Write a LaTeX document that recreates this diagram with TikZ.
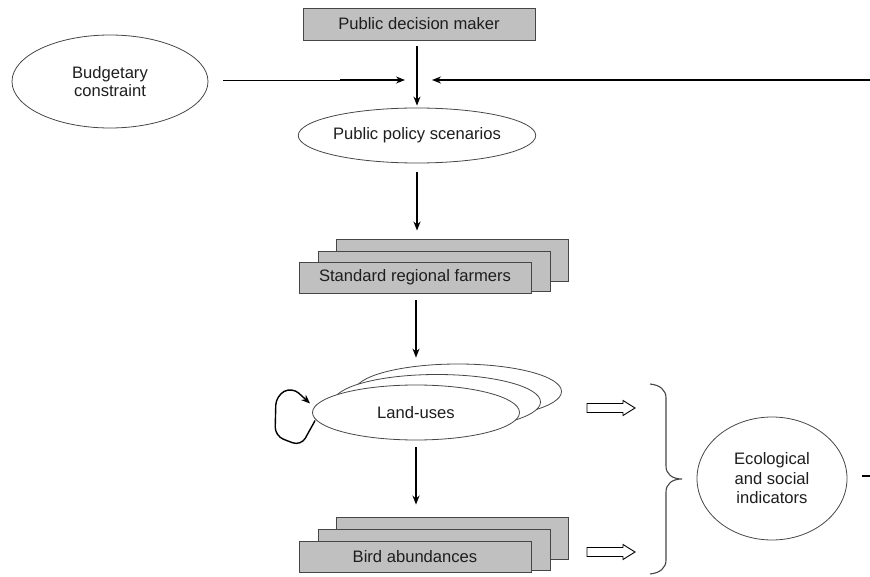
\documentclass[tikz,border=0pt]{standalone}
\usepackage{fontspec}
\setmainfont{Liberation Sans}
\usetikzlibrary{shapes.geometric,arrows.meta}
\definecolor{boxgray}{RGB}{192,192,192}
\definecolor{edge}{RGB}{70,70,70}
\definecolor{txt}{RGB}{30,30,30}
\begin{document}
\begin{tikzpicture}[x=1pt,y=-1pt,
  every node/.style={font=\fontsize{16.6}{18}\selectfont, text=txt},
  gbox/.style={draw=edge, line width=0.9pt, fill=boxgray, inner sep=0pt, minimum width=232pt},
  oval/.style={ellipse, draw=edge, line width=0.8pt, fill=white, inner sep=0pt, align=center},
  arr/.style={line width=1.4pt, -{Stealth[length=9pt,width=7pt]}},
  hollow/.style={draw=black, line width=0.9pt, fill=white, line join=miter},
]
\useasboundingbox (0,0) rectangle (870,577);

% top
\node[gbox, minimum height=32pt] (pdm) at (419,24) {Public decision maker};
\node[oval, minimum width=196pt, minimum height=93pt] (budget) at (110,81.5) {Budgetary\\constraint};
\node[oval, minimum width=208pt, minimum height=55pt] (pps) at (417,135.5) {Public policy scenarios};

\coordinate (lstart) at (223,80);
\coordinate (lmid) at (340,80);
\coordinate (ltip) at (405,80);
\coordinate (rstart) at (870,80);
\coordinate (rtip) at (432,80);
\draw[line width=0.9pt] (lstart) -- (lmid);
\draw[arr] (lmid) -- (ltip);
\draw[arr] (rstart) -- (rtip);
\draw[arr, shorten <=6pt, shorten >=2pt] (pps.north |- pdm.south) -- (pps.north);

% farmers
\node[gbox, minimum height=42pt] (farm3) at (452.5,260) {};
\node[gbox, minimum height=40pt] (farm2) at (434,271) {};
\node[gbox, minimum height=31pt] (farm1) at (415,277.5) {Standard regional farmers};
\draw[arr, shorten <=9pt, shorten >=8pt] (pps.south) -- (pps.south |- farm3.north);

% land uses
\node[oval, minimum width=207pt, minimum height=55pt] (land3) at (458,391.5) {};
\node[oval, minimum width=207pt, minimum height=55pt] (land2) at (437,402) {};
\node[oval, minimum width=207pt, minimum height=55pt] (land1) at (416,412.5) {Land-uses};
\draw[arr, shorten <=7pt, shorten >=6pt] (farm1.south -| land1.north) -- (land1.north |- land3.north);
\draw[line width=1.4pt, rounded corners=9pt, -{Stealth[length=9pt,width=7pt]}]
  ([xshift=3pt,yshift=-8pt]land1.west) -- (301,446) -- (275,436) -- (276,396) -- (292,387) -- ([xshift=-2pt,yshift=9pt]land1.west);

% birds
\node[gbox, minimum height=42pt] (bird3) at (452.5,538) {};
\node[gbox, minimum height=41pt] (bird2) at (434,549.5) {};
\node[gbox, minimum height=31pt] (bird1) at (415,556.5) {Bird abundances};
\draw[arr, shorten <=7pt, shorten >=12pt] (land1.south) -- (land1.south |- bird3.north);

% hollow arrows
\draw[hollow] (587,403.5) -- (623,403.5) -- (623,400.5) -- (635,408) -- (623,415.5) -- (623,412.5) -- (587,412.5) -- cycle;
\draw[hollow] (587,547.5) -- (623,547.5) -- (623,544.5) -- (635,552) -- (623,559.5) -- (623,556.5) -- (587,556.5) -- cycle;

% brace
\draw[draw=edge, line width=1.1pt]
  (650,384) .. controls (660,385) and (666,390) .. (666,398) -- (666,466)
  .. controls (666,474) and (672,479) .. (682,479)
  .. controls (672,479) and (666,484) .. (666,492) -- (666,560)
  .. controls (666,568) and (660,573) .. (650,574);

% indicators
\node[oval, minimum width=150pt, minimum height=123pt, font=\fontsize{16.6}{19.5}\selectfont] (ind) at (772,478.5) {Ecological\\and social\\indicators};
\coordinate (dstart) at (862,476);
\coordinate (dend) at (870,476);
\draw[line width=1.4pt] (dstart) -- (dend);
\end{tikzpicture}
\end{document}
